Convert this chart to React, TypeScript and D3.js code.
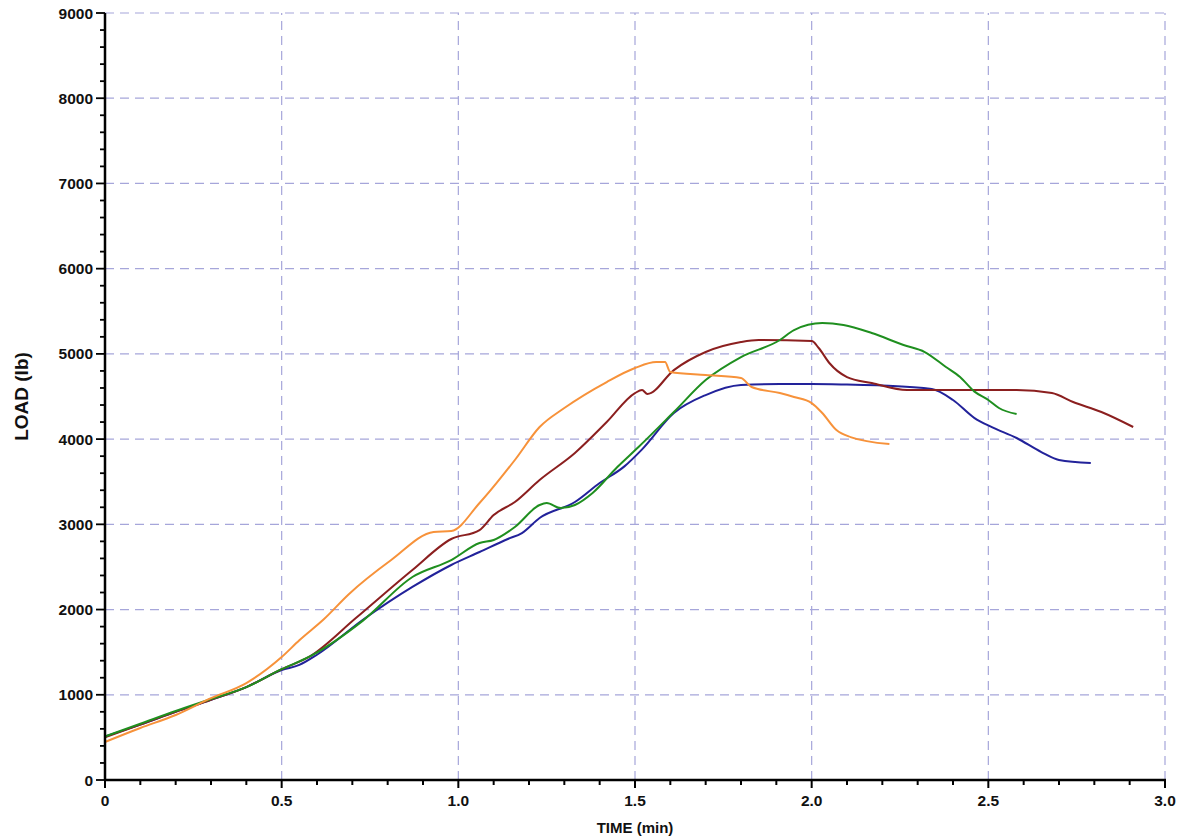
import React from "react";
import * as d3 from "d3";

// time (min) / load (lb)
const blueTime = [0, 0.1, 0.2, 0.3, 0.4, 0.5, 0.55, 0.6, 0.73, 0.87, 0.98, 1.06, 1.14, 1.18, 1.23, 1.33, 1.4, 1.47, 1.52, 1.61, 1.7, 1.8, 1.91, 2.0, 2.1, 2.2, 2.34, 2.4, 2.46, 2.51, 2.58, 2.65, 2.7, 2.79];
const blueLoad = [510, 650, 800, 940, 1090, 1290, 1350, 1470, 1880, 2265, 2523, 2675, 2828, 2898, 3074, 3262, 3485, 3680, 3880, 4306, 4517, 4635, 4646, 4646, 4640, 4630, 4588, 4459, 4250, 4140, 4013, 3848, 3755, 3719];

const greenTime = [0, 0.1, 0.2, 0.3, 0.4, 0.5, 0.58, 0.73, 0.87, 0.98, 1.06, 1.1, 1.16, 1.23, 1.25, 1.29, 1.33, 1.38, 1.45, 1.51, 1.61, 1.7, 1.8, 1.91, 1.95, 2.03, 2.09, 2.17, 2.26, 2.32, 2.38, 2.42, 2.46, 2.5, 2.53, 2.58];
const greenLoad = [510, 660, 810, 950, 1090, 1300, 1450, 1870, 2382, 2581, 2781, 2816, 2968, 3227, 3250, 3191, 3227, 3368, 3672, 3907, 4318, 4693, 4963, 5163, 5280, 5362, 5339, 5245, 5104, 5022, 4846, 4728, 4560, 4459, 4365, 4294];

const maroonTime = [0, 0.1, 0.2, 0.3, 0.4, 0.5, 0.58, 0.71, 0.87, 0.98, 1.06, 1.1, 1.16, 1.23, 1.33, 1.42, 1.5, 1.52, 1.535, 1.61, 1.7, 1.8, 1.85, 2.0, 2.02, 2.05, 2.1, 2.17, 2.27, 2.42, 2.58, 2.68, 2.74, 2.82, 2.91];
const maroonLoad = [500, 650, 800, 940, 1090, 1300, 1450, 1900, 2464, 2828, 2933, 3109, 3262, 3520, 3837, 4200, 4540, 4576, 4530, 4810, 5022, 5139, 5163, 5150, 5069, 4893, 4728, 4658, 4576, 4576, 4576, 4540, 4435, 4318, 4142];

const orangeTime = [0, 0.1, 0.2, 0.3, 0.4, 0.5, 0.55, 0.62, 0.69, 0.81, 0.93, 0.98, 1.06, 1.16, 1.23, 1.3, 1.42, 1.5, 1.56, 1.585, 1.6, 1.7, 1.8, 1.83, 1.91, 1.95, 2.0, 2.03, 2.07, 2.11, 2.22];
const orangeLoad = [446, 610, 763, 960, 1138, 1443, 1640, 1889, 2180, 2581, 2910, 2922, 3250, 3755, 4142, 4365, 4670, 4834, 4904, 4904, 4787, 4752, 4717, 4611, 4540, 4494, 4423, 4306, 4106, 4024, 3942];

const xTicks = [0, 0.5, 1.0, 1.5, 2.0, 2.5, 3.0];
const yTicks = [0, 1000, 2000, 3000, 4000, 5000, 6000, 7000, 8000, 9000];

const series = [
  { name: "blue", color: "#22229a", t: blueTime, v: blueLoad },
  { name: "maroon", color: "#8b1f1f", t: maroonTime, v: maroonLoad },
  { name: "green", color: "#1f8f1f", t: greenTime, v: greenLoad },
  { name: "orange", color: "#f7923a", t: orangeTime, v: orangeLoad },
];

const W = 1186;
const H = 837;
const margin = { top: 13, right: 21, bottom: 57, left: 105 };

export default function App() {
  const xScale = d3.scaleLinear().domain([0, 3]).range([margin.left, W - margin.right]);
  const yScale = d3.scaleLinear().domain([0, 9000]).range([H - margin.bottom, margin.top]);
  const line = d3
    .line<[number, number]>()
    .x((d) => xScale(d[0]))
    .y((d) => yScale(d[1]))
    .curve(d3.curveMonotoneX);

  const xMinor = d3.range(0, 31).map((i) => i / 10);
  const yMinor = d3.range(0, 46).map((i) => i * 200);
  const font = "Arial, 'Liberation Sans', sans-serif";
  const gridColor = "#a6a6da";
  const x0 = xScale(0);
  const y0 = yScale(0);

  return (
    <svg width={W} height={H} style={{ position: "absolute", left: 0, top: 0, background: "#fff" }}>
      {/* grid */}
      <g stroke={gridColor} strokeWidth={1.2} strokeDasharray="9,6">
        {xTicks.slice(1).map((t) => (
          <line key={"gx" + t} x1={xScale(t)} x2={xScale(t)} y1={y0} y2={margin.top} />
        ))}
        {yTicks.slice(1).map((t) => (
          <line key={"gy" + t} x1={x0} x2={W - margin.right} y1={yScale(t)} y2={yScale(t)} />
        ))}
      </g>

      {/* curves */}
      {series.map((s) => (
        <path
          key={s.name}
          d={line(s.t.map((t, i) => [t, s.v[i]] as [number, number])) || ""}
          fill="none"
          stroke={s.color}
          strokeWidth={2}
          strokeLinejoin="round"
        />
      ))}

      {/* axes */}
      <g stroke="#000">
        <line x1={x0} x2={x0} y1={margin.top} y2={y0} strokeWidth={2.5} />
        <line x1={x0 - 1} x2={W - margin.right + 1} y1={y0} y2={y0} strokeWidth={2.5} />
        {yMinor.map((v) => (
          <line key={"ym" + v} x1={x0} x2={x0 - (v % 1000 === 0 ? 9 : 5)} y1={yScale(v)} y2={yScale(v)} strokeWidth={1.8} />
        ))}
        {xMinor.map((t, i) => (
          <line key={"xm" + i} x1={xScale(t)} x2={xScale(t)} y1={y0} y2={y0 + (i % 5 === 0 ? 8 : 5)} strokeWidth={2} />
        ))}
      </g>

      <g fontFamily={font} fontWeight="bold" fontSize={15.5} fill="#111">
        {yTicks.map((v) => (
          <text key={"yl" + v} x={x0 - 12} y={yScale(v)} textAnchor="end" dominantBaseline="central">
            {v}
          </text>
        ))}
        {xTicks.map((t) => (
          <text key={"xl" + t} x={xScale(t)} y={y0 + 26} textAnchor="middle">
            {t === 0 ? "0" : t.toFixed(1)}
          </text>
        ))}
        <text x={(x0 + xScale(3)) / 2} y={H - 4} textAnchor="middle" fontSize={15}>
          TIME (min)
        </text>
        <text
          transform={`translate(28,${(margin.top + y0) / 2}) rotate(-90)`}
          textAnchor="middle"
          fontSize={19}
        >
          LOAD (lb)
        </text>
      </g>
    </svg>
  );
}
